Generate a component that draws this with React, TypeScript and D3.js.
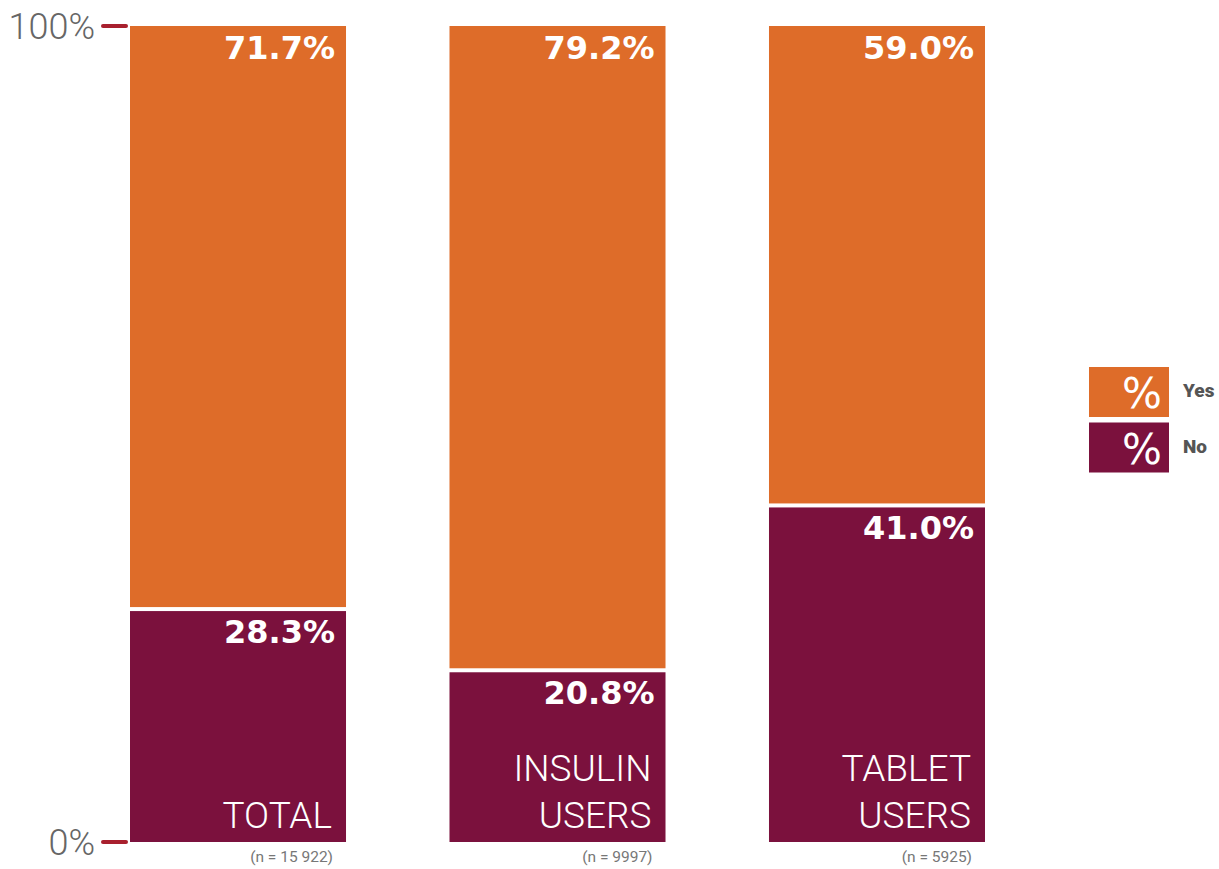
import React from "react";
import * as d3 from "d3";

const categories = ["TOTAL", "INSULIN USERS", "TABLET USERS"];
const categoryLines = [["TOTAL"], ["INSULIN", "USERS"], ["TABLET", "USERS"]];
const nLabels = ["(n = 15 922)", "(n = 9997)", "(n = 5925)"];
const yesValues = [71.7, 79.2, 59.0];
const noValues = [28.3, 20.8, 41.0];
const tickValues = [0, 100];
const legendItems = ["Yes", "No"];

const ORANGE = "#DE6C29";
const PURPLE = "#7B113D";
const W = 1219;
const H = 869;

export default function App() {
  const x = d3.scaleBand<string>().domain(categories).range([130, 985]).paddingInner(0.3239).paddingOuter(0);
  const y = d3.scaleLinear().domain([0, 100]).range([842, 26]);
  const legendColor = d3.scaleOrdinal<string, string>().domain(legendItems).range([ORANGE, PURPLE]);
  const bw = x.bandwidth();
  const gap = 4;

  return (
    <svg width={W} height={H} style={{ position: "absolute", left: 0, top: 0, background: "#fff" }}>
      {tickValues.map((t) => (
        <g key={t}>
          <line x1={103} x2={126} y1={y(t)} y2={y(t)} stroke="#A8202E" strokeWidth={4} strokeLinecap="round" />
          <text x={95} y={y(t) + 13} textAnchor="end" fontFamily="Roboto" fontWeight={300} fontSize={36} fill="#666">
            {t}%
          </text>
        </g>
      ))}
      {categories.map((c, i) => {
        const x0 = x(c)!;
        const right = x0 + bw;
        const noTop = y(noValues[i]);
        const yesTop = y(noValues[i] + yesValues[i]);
        const lines = categoryLines[i];
        return (
          <g key={c}>
            <rect x={x0} y={noTop} width={bw} height={y(0) - noTop} fill={PURPLE} />
            <rect x={x0} y={yesTop} width={bw} height={noTop - gap - yesTop} fill={ORANGE} />
            <text x={right - 11} y={yesTop + 33} textAnchor="end" fontFamily="DejaVu Sans" fontWeight="bold" fontSize={32} fill="#fff">
              {yesValues[i].toFixed(1)}%
            </text>
            <text x={right - 11} y={noTop + 32} textAnchor="end" fontFamily="DejaVu Sans" fontWeight="bold" fontSize={32} fill="#fff">
              {noValues[i].toFixed(1)}%
            </text>
            {lines.map((l, k) => (
              <text key={k} x={right - 14} y={828 - (lines.length - 1 - k) * 47} textAnchor="end" fontFamily="Roboto" fontWeight={300} fontSize={37} fill="#fff">
                {l}
              </text>
            ))}
            <text x={right - 13} y={862} textAnchor="end" fontFamily="Roboto" fontSize={15.5} fill="#777">
              {nLabels[i]}
            </text>
          </g>
        );
      })}
      {legendItems.map((item, i) => {
        const ly = 367 + i * 55.5;
        return (
          <g key={item}>
            <rect x={1089} y={ly} width={80} height={50} fill={legendColor(item)} />
            <text x={1162} y={ly + 41} textAnchor="end" fontFamily="DejaVu Sans" fontSize={42} fill="#fff">
              %
            </text>
            <text x={1183} y={ly + 30} fontFamily="Roboto" fontWeight={900} fontSize={19} fill="#555">
              {item}
            </text>
          </g>
        );
      })}
    </svg>
  );
}
